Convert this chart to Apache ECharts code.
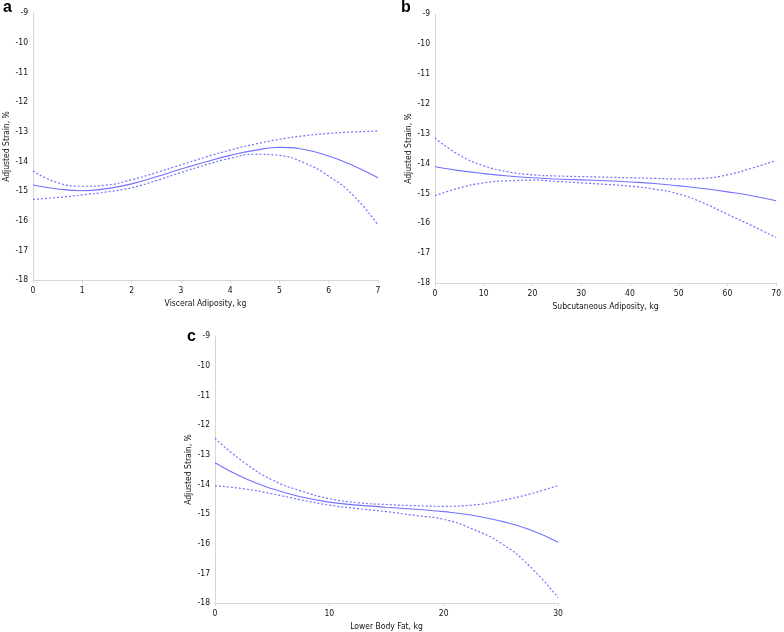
<!DOCTYPE html>
<html>
<head>
<meta charset="utf-8">
<script src="https://cdn.jsdelivr.net/npm/echarts@6/dist/echarts.min.js"></script>
<style>html,body{margin:0;padding:0;background:#fff;}#c{width:784px;height:632px;}</style>
</head>
<body>
<div id="c"></div>
<script>
// Panel a: Visceral Adiposity
const xA = [0, 0.5, 1, 1.5, 2, 2.5, 3, 3.5, 4, 4.5, 5, 5.5, 6, 6.5, 7];
const fitA = [-14.80, -14.93, -14.99, -14.92, -14.76, -14.52, -14.26, -14.02, -13.80, -13.63, -13.53, -13.60, -13.82, -14.15, -14.55];
const upA = [-14.32, -14.72, -14.84, -14.80, -14.62, -14.38, -14.12, -13.86, -13.62, -13.42, -13.26, -13.14, -13.06, -13.01, -12.98];
const loA = [-15.28, -15.22, -15.13, -15.03, -14.89, -14.65, -14.38, -14.12, -13.90, -13.76, -13.80, -14.05, -14.50, -15.15, -16.15];

// Panel b: Subcutaneous Adiposity
const xB = [0, 5, 10, 15, 20, 25, 30, 35, 40, 45, 50, 55, 60, 65, 70];
const fitB = [-14.11, -14.24, -14.34, -14.42, -14.48, -14.52, -14.55, -14.58, -14.62, -14.67, -14.75, -14.84, -14.95, -15.08, -15.25];
const upB = [-13.15, -13.72, -14.08, -14.28, -14.38, -14.42, -14.44, -14.46, -14.48, -14.50, -14.52, -14.50, -14.38, -14.16, -13.90];
const loB = [-15.08, -14.82, -14.65, -14.58, -14.56, -14.60, -14.65, -14.70, -14.76, -14.86, -15.02, -15.32, -15.70, -16.08, -16.48];

// Panel c: Lower Body Fat
const xC = [0, 2.5, 5, 7.5, 10, 12.5, 15, 17.5, 20, 22.5, 25, 27.5, 30];
const fitC = [-13.27, -13.78, -14.15, -14.42, -14.60, -14.70, -14.77, -14.84, -14.92, -15.04, -15.24, -15.52, -15.95];
const upC = [-12.45, -13.25, -13.85, -14.22, -14.48, -14.62, -14.68, -14.72, -14.74, -14.70, -14.55, -14.33, -14.04];
const loC = [-14.05, -14.15, -14.32, -14.52, -14.70, -14.82, -14.92, -15.05, -15.18, -15.50, -15.98, -16.75, -17.82];

const yTicks = { min: -18, max: -9, interval: 1 };
const panels = [
  { letter: 'a', xTitle: 'Visceral Adiposity, kg', xs: xA, fit: fitA, up: upA, lo: loA, xmax: 7, xint: 1 },
  { letter: 'b', xTitle: 'Subcutaneous Adiposity, kg', xs: xB, fit: fitB, up: upB, lo: loB, xmax: 70, xint: 10 },
  { letter: 'c', xTitle: 'Lower Body Fat, kg', xs: xC, fit: fitC, up: upC, lo: loC, xmax: 30, xint: 10 }
];

const gridPos = [
  { left: 33, top: 13, width: 345, height: 267 },
  { left: 435, top: 14, width: 344, height: 269 },
  { left: 215, top: 336, width: 343, height: 268 }
];
const letterPos = [[3, 0], [401, 0], [187, 329]];

const FONT = '"Liberation Sans Narrow", "DejaVu Sans Condensed", sans-serif';
const FS = 8.5;
const LINE = '#7272ff';
const AX = '#d6d6d6';
const TXT = '#111';

const grids = [], xAxes = [], yAxes = [], series = [], graphics = [];
panels.forEach((p, i) => {
  grids.push(Object.assign({}, gridPos[i]));
  xAxes.push({
    type: 'value', gridIndex: i, min: 0, max: p.xmax, interval: p.xint,
    name: p.xTitle, nameLocation: 'middle', nameGap: 19,
    nameTextStyle: { fontFamily: FONT, fontSize: FS, color: TXT },
    axisLine: { show: true, lineStyle: { color: AX, width: 1 } },
    axisTick: { show: true, length: 3, lineStyle: { color: AX } },
    axisLabel: { fontFamily: FONT, fontSize: FS, color: TXT, margin: 6 },
    splitLine: { show: false }
  });
  yAxes.push({
    type: 'value', gridIndex: i, min: yTicks.min, max: yTicks.max, interval: yTicks.interval,
    name: 'Adjusted Strain, %', nameLocation: 'middle', nameGap: 21, nameRotate: 90,
    nameTextStyle: { fontFamily: FONT, fontSize: FS, color: TXT },
    axisLine: { show: true, lineStyle: { color: AX, width: 1 } },
    axisTick: { show: false },
    axisLabel: { fontFamily: FONT, fontSize: FS, color: TXT, margin: 5 },
    splitLine: { show: false }
  });
  const mk = (arr, dashed) => ({
    type: 'line', xAxisIndex: i, yAxisIndex: i, smooth: 0.5, showSymbol: false, silent: true,
    data: p.xs.map((x, k) => [x, arr[k]]),
    lineStyle: { color: LINE, width: dashed ? 1.2 : 1.1, type: dashed ? [2, 2] : 'solid' }
  });
  series.push(mk(p.fit, false), mk(p.up, true), mk(p.lo, true));
  graphics.push({
    type: 'text', left: letterPos[i][0], top: letterPos[i][1],
    style: { text: p.letter, font: 'bold 16px "Liberation Sans", Arial, sans-serif', fill: '#000' }
  });
});

const chart = echarts.init(document.getElementById('c'), null, { renderer: 'canvas' });
chart.setOption({
  animation: false,
  backgroundColor: '#fff',
  grid: grids, xAxis: xAxes, yAxis: yAxes, series: series, graphic: graphics
});
</script>
</body>
</html>
